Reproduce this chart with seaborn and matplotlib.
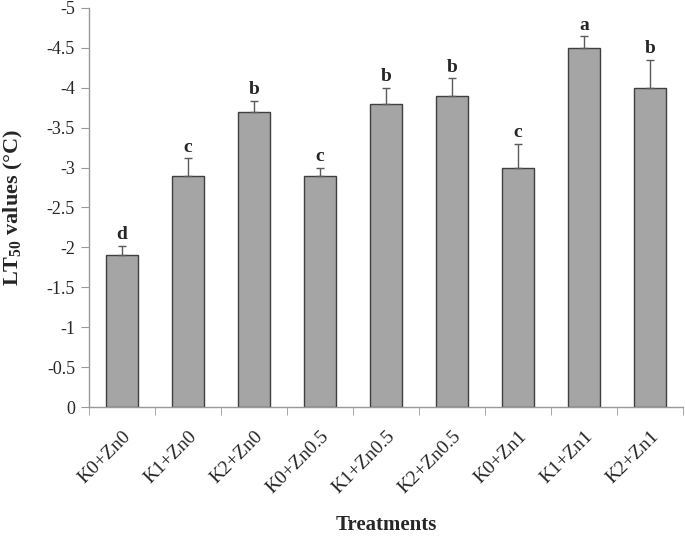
import matplotlib
matplotlib.use('Agg')
import matplotlib.pyplot as plt
import numpy as np
import pandas as pd
import seaborn as sns

# ── data ─────────────────────────────────────────────────────────────────────
treatments = ['K0+Zn0', 'K1+Zn0', 'K2+Zn0', 'K0+Zn0.5', 'K1+Zn0.5',
              'K2+Zn0.5', 'K0+Zn1', 'K1+Zn1', 'K2+Zn1']
lt50 = [-1.9, -2.9, -3.7, -2.9, -3.8, -3.9, -3.0, -4.5, -4.0]
err = [0.12, 0.22, 0.14, 0.10, 0.20, 0.22, 0.30, 0.15, 0.35]
letters = ['d', 'c', 'b', 'c', 'b', 'b', 'c', 'a', 'b']
yticks = [0, -0.5, -1, -1.5, -2, -2.5, -3, -3.5, -4, -4.5, -5]

df = pd.DataFrame({'Treatment': treatments, 'LT50': lt50})

sns.set_style('white')
plt.rcParams['font.family'] = ['Liberation Serif', 'DejaVu Serif']
plt.rcParams['mathtext.fontset'] = 'custom'
plt.rcParams['mathtext.rm'] = 'Liberation Serif'
plt.rcParams['mathtext.bf'] = 'Liberation Serif:bold'

fig = plt.figure(figsize=(6.85, 5.4), dpi=100)
ax = fig.add_axes([89 / 685, 1 - 407 / 540, 594 / 685, 399 / 540])

sns.barplot(data=df, x='Treatment', y='LT50', color='#a5a5a5',
            edgecolor='#3f3f3f', linewidth=1, width=0.47, saturation=1,
            errorbar=None, ax=ax)
xs = np.arange(len(treatments))
ax.errorbar(xs, lt50, yerr=[err, [0] * len(err)], fmt='none',
            ecolor='#5a5a5a', elinewidth=1, capsize=3, capthick=1)
for x, v, e, t in zip(xs, lt50, err, letters):
    ax.text(x, v - e - 0.03, t, ha='center', va='bottom',
            fontsize=14, fontweight='bold')

ax.set_xlim(-0.5, len(treatments) - 0.5)
ax.set_ylim(0, -5)
ax.set_yticks(yticks)
ax.set_yticklabels([f'{t:g}' for t in yticks], fontsize=13)
ax.set_xticks(xs)
ax.set_xticklabels(treatments, rotation=45, ha='right',
                   rotation_mode='anchor', fontsize=14)
ax.tick_params(axis='x', which='major', length=0, pad=15)
ax.set_xticks(np.arange(len(treatments) + 1) - 0.5, minor=True)
ax.tick_params(axis='x', which='minor', length=6, color='#999999',
               direction='out', bottom=True)
ax.tick_params(axis='y', length=6, color='#999999', direction='out',
               left=True, pad=4)

for s in ['top', 'right']:
    ax.spines[s].set_visible(False)
for s in ['left', 'bottom']:
    ax.spines[s].set_color('#999999')
    ax.spines[s].set_linewidth(1)

ax.set_xlabel('Treatments', fontsize=15, fontweight='bold', va='center')
ax.xaxis.set_label_coords(0.5, (407 - 525) / 399)
ax.set_ylabel(r'LT$_{\mathbf{50}}$ values (°C)', fontsize=16,
              fontweight='bold', va='center')
ax.yaxis.set_label_coords((13 - 89) / 594, 0.5)

plt.savefig('out.png', dpi=100)
